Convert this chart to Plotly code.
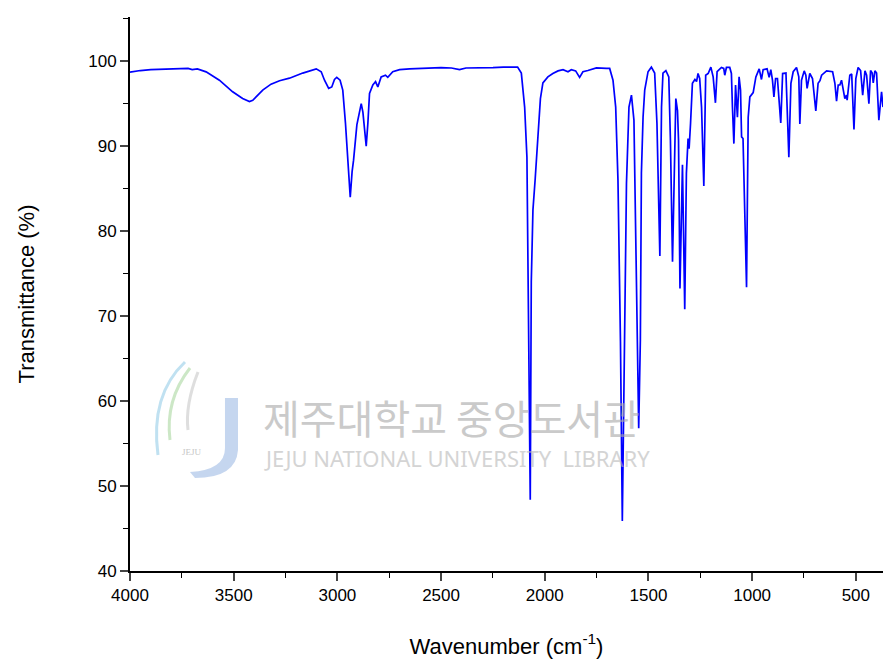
import plotly.graph_objects as go

# FT-IR spectrum: wavenumber (cm^-1) and transmittance (%)
wavenumber = [
    4000, 3950, 3900, 3850, 3800, 3750, 3720, 3700, 3675, 3633, 3569, 3505, 3457,
    3424, 3408, 3360, 3320, 3279, 3231, 3167, 3102, 3078, 3062, 3042, 3027, 3014,
    3003, 2987, 2974, 2961, 2938, 2929, 2922, 2906, 2897, 2885, 2877, 2869, 2861,
    2853, 2845, 2829, 2816, 2805, 2789, 2768, 2757, 2733, 2700, 2652, 2600, 2550,
    2500, 2450, 2411, 2380, 2300, 2250, 2200, 2150, 2131, 2113, 2097, 2086, 2078,
    2070, 2065, 2057, 2046, 2033, 2021, 2009, 1985, 1961, 1936, 1912, 1888, 1872,
    1851, 1832, 1816, 1792, 1751, 1703, 1687, 1671, 1663, 1658, 1647, 1635, 1626,
    1617, 1610, 1606, 1594, 1582, 1570, 1562, 1556, 1547, 1539, 1534, 1526, 1518,
    1502, 1486, 1470, 1459, 1445, 1437, 1430, 1416, 1402, 1394, 1384, 1373, 1368,
    1360, 1355, 1348, 1336, 1325, 1317, 1309, 1304, 1297, 1288, 1276, 1268, 1261,
    1253, 1244, 1233, 1224, 1212, 1199, 1188, 1177, 1169, 1148, 1137, 1132, 1124,
    1108, 1100, 1095, 1088, 1080, 1075, 1071, 1063, 1056, 1051, 1044, 1027, 1019,
    1011, 995, 982, 966, 955, 947, 928, 918, 910, 902, 895, 887, 878, 862, 853,
    837, 823, 813, 802, 786, 775, 770, 762, 749, 741, 735, 722, 709, 693, 682,
    673, 665, 641, 612, 601, 593, 585, 577, 569, 561, 553, 545, 542, 529, 520,
    509, 500, 489, 477, 467, 456, 448, 437, 429, 421, 416, 408, 400, 389, 376, 369,
]
transmittance = [
    98.7, 98.9, 99.0, 99.05, 99.1, 99.1, 99.15, 99.0, 99.1, 98.74, 97.76, 96.4, 95.6,
    95.25, 95.4, 96.6, 97.3, 97.7, 98.0, 98.6, 99.1, 98.76, 97.76, 96.8, 96.97, 97.85,
    98.1, 97.76, 96.6, 92.7, 84.0, 87.0, 88.35, 92.5, 93.6, 95.0, 94.0, 91.9, 90.0,
    92.7, 96.2, 97.2, 97.6, 96.97, 98.15, 98.35, 98.1, 98.76, 99.0, 99.1, 99.15, 99.2,
    99.25, 99.2, 99.0, 99.2, 99.2, 99.25, 99.3, 99.3, 99.3, 98.6, 94.6, 88.7, 70.0,
    48.4, 74.0, 82.5, 86.2, 91.5, 95.6, 97.45, 98.15, 98.55, 98.86, 99.0, 98.76, 99.0,
    98.86, 98.1, 98.76, 98.9, 99.2, 99.15, 99.15, 97.76, 96.2, 94.6, 86.0, 67.0, 45.9,
    65.0, 82.5, 85.6, 94.6, 96.0, 93.06, 82.0, 70.0, 56.8, 67.2, 86.8, 93.4, 96.6,
    98.76, 99.3, 98.6, 92.7, 77.06, 94.6, 98.6, 98.9, 98.15, 90.7, 76.4, 92.3, 95.6,
    94.2, 90.7, 73.26, 87.8, 70.8, 86.8, 90.9, 89.7, 92.7, 97.4, 97.85, 97.6, 98.55,
    97.96, 94.6, 85.3, 98.35, 98.55, 99.3, 98.15, 95.1, 98.76, 99.26, 99.15, 98.35, 99.26,
    99.26, 98.55, 94.6, 90.3, 97.2, 95.4, 93.4, 98.15, 96.6, 91.1, 90.9, 73.4, 93.4,
    95.8, 96.3, 98.15, 99.1, 97.85, 99.0, 99.1, 98.1, 99.0, 97.76, 95.8, 97.96, 97.96, 92.74, 98.55,
    98.6, 88.7, 97.4, 98.76, 99.26, 98.15, 92.6, 97.76, 98.86, 98.35, 96.8, 98.55, 97.96, 94.15, 97.4,
    97.7, 98.35, 98.86, 98.76, 97.4, 95.3, 97.2, 97.2, 97.76, 96.6, 95.6, 96.0, 95.4, 98.35, 98.5,
    91.96, 97.96, 99.26, 98.9, 96.0, 98.86, 98.35, 95.0, 98.9, 98.6, 97.45, 98.86, 98.6, 93.06, 96.4, 94.6,
]

x_ticks = [4000, 3500, 3000, 2500, 2000, 1500, 1000, 500]
y_ticks = [40, 50, 60, 70, 80, 90, 100]

W, H = 883, 663
L, R, T, B = 130, 0, 17, 92
PW, PH = W - L - R, H - T - B


def P(px, py):
    """Pixel position -> paper coordinates string for SVG paths."""
    return f"{(px - L) / PW:.5f},{(H - B - py) / PH:.5f}"


fig = go.Figure()
fig.add_trace(go.Scatter(
    x=wavenumber, y=transmittance, mode="lines",
    line=dict(color="#0000FF", width=1.7), hoverinfo="skip", showlegend=False,
))

axis_font = dict(family="Liberation Sans, Arial, sans-serif", size=17, color="black")
fig.update_xaxes(
    range=[4000, 369], tickvals=x_ticks, ticks="outside", ticklen=8, tickwidth=1.5,
    showline=True, linecolor="black", linewidth=1.8, showgrid=False, zeroline=False,
    tickfont=axis_font, mirror=False,
    minor=dict(dtick=250, ticks="outside", ticklen=5, tickwidth=1.3, tickcolor="black", showgrid=False),
    title=dict(text="Wavenumber (cm<sup>-1</sup>)",
               font=dict(family="Liberation Sans, Arial, sans-serif", size=22, color="black"),
               standoff=34),
)
fig.update_yaxes(
    range=[40, 105.2], tickvals=y_ticks, ticks="outside", ticklen=8, tickwidth=1.5,
    showline=True, linecolor="black", linewidth=1.8, showgrid=False, zeroline=False,
    tickfont=axis_font,
    minor=dict(dtick=5, ticks="outside", ticklen=5, tickwidth=1.3, tickcolor="black", showgrid=False),
    title=dict(text="Transmittance (%)",
               font=dict(family="Liberation Sans, Arial, sans-serif", size=22, color="black"),
               standoff=48),
)

# Library watermark: logo strokes and caption
shapes = [
    dict(type="path", xref="paper", yref="paper", layer="below",
         path=f"M{P(225,398)} L{P(238,398)} L{P(238,450)} Q{P(236,478)} {P(195,478)} "
              f"L{P(190,472)} Q{P(225,470)} {P(225,448)} Z",
         fillcolor="rgba(150,180,225,0.55)", line=dict(width=0)),
    dict(type="path", xref="paper", yref="paper", layer="below",
         path=f"M{P(185,362)} Q{P(150,395)} {P(158,455)}",
         line=dict(color="rgba(140,200,230,0.55)", width=3)),
    dict(type="path", xref="paper", yref="paper", layer="below",
         path=f"M{P(190,368)} Q{P(165,400)} {P(170,440)}",
         line=dict(color="rgba(170,215,160,0.6)", width=3)),
    dict(type="path", xref="paper", yref="paper", layer="below",
         path=f"M{P(198,372)} Q{P(185,405)} {P(188,430)}",
         line=dict(color="rgba(190,190,190,0.5)", width=3)),
]
fig.update_layout(shapes=shapes)

fig.add_annotation(
    text="제주대학교 중앙도서관", xref="paper", yref="paper",
    x=(261 - L) / PW, y=(H - B - 417) / PH, xanchor="left", yanchor="middle",
    showarrow=False, opacity=0.6,
    font=dict(family="Noto Sans CJK KR", size=40, color="#a8a8a8"),
)
fig.add_annotation(
    text="JEJU NATIONAL UNIVERSITY  LIBRARY", xref="paper", yref="paper",
    x=(262 - L) / PW, y=(H - B - 458) / PH, xanchor="left", yanchor="middle",
    showarrow=False, opacity=0.6,
    font=dict(family="Noto Sans, sans-serif", size=22, color="#b8b8b8"),
)
fig.add_annotation(
    text="JEJU", xref="paper", yref="paper",
    x=(192 - L) / PW, y=(H - B - 452) / PH, xanchor="center", yanchor="middle",
    showarrow=False, opacity=0.6,
    font=dict(family="Liberation Serif, serif", size=9, color="#a0a0a0"),
)

fig.update_layout(
    width=W, height=H,
    margin=dict(l=L, r=R, t=T, b=B, pad=0),
    plot_bgcolor="white", paper_bgcolor="white",
)

fig.write_html("out.html")
